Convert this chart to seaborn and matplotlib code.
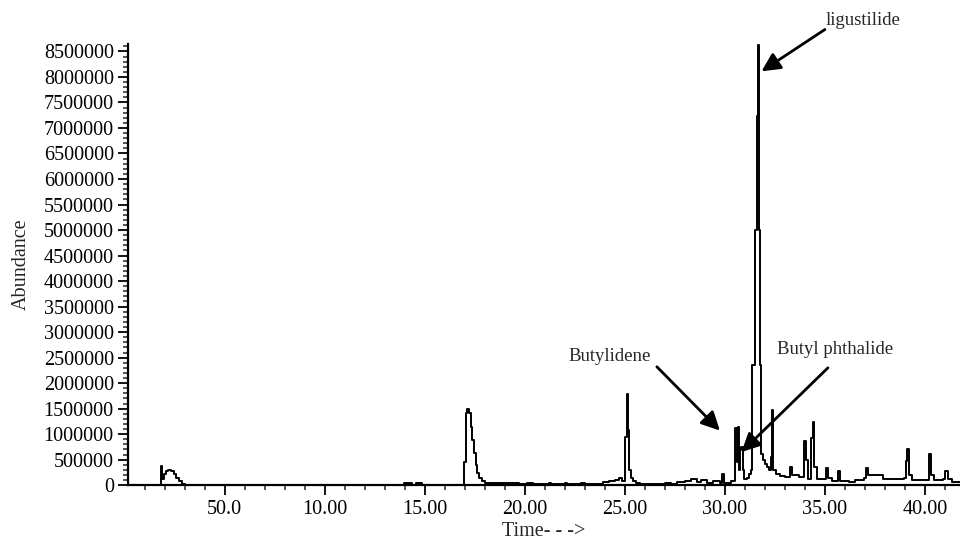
import numpy as np
import pandas as pd
import seaborn as sns
import matplotlib.pyplot as plt
from matplotlib.ticker import MultipleLocator

# Chromatogram (time in min, abundance in millions), step trace
rt_early = [0.15, 1.80, 1.87, 1.95, 2.05, 2.15, 2.30, 2.45, 2.55, 2.70, 2.85, 3.00,
            13.95, 14.35, 14.55, 14.85]
ab_early = [0.0, 0.37, 0.12, 0.22, 0.28, 0.30, 0.27, 0.22, 0.15, 0.08, 0.03, 0.0,
            0.04, 0.0, 0.04, 0.0]

rt_mid = [16.95, 17.05, 17.12, 17.20, 17.30, 17.38, 17.46, 17.54, 17.62, 17.72, 17.85, 18.00, 18.20,
          19.70, 20.10, 20.40, 21.20, 21.30, 22.00, 22.10, 22.80, 23.00, 23.90, 24.20, 24.50, 24.70, 24.85,
          25.00, 25.10, 25.17, 25.23, 25.30, 25.40, 25.55, 25.75,
          27.00, 27.30, 27.60, 28.00, 28.30, 28.60, 28.80, 29.10, 29.40, 29.75, 29.85, 29.95, 30.30]
ab_mid = [0.46, 1.42, 1.50, 1.42, 1.15, 0.88, 0.63, 0.40, 0.24, 0.14, 0.08, 0.05, 0.04,
          0.03, 0.05, 0.03, 0.05, 0.03, 0.05, 0.03, 0.05, 0.03, 0.06, 0.08, 0.10, 0.14, 0.08,
          0.94, 1.78, 1.08, 0.30, 0.15, 0.08, 0.05, 0.03,
          0.04, 0.03, 0.06, 0.08, 0.12, 0.06, 0.10, 0.05, 0.08, 0.05, 0.22, 0.05, 0.08]

rt_main = [30.45, 30.52, 30.58, 30.63, 30.70, 30.76, 30.82, 30.88, 30.95, 31.10, 31.20, 31.28,
           31.36, 31.50, 31.58, 31.64, 31.70, 31.75, 31.80, 31.90, 32.00, 32.10, 32.20, 32.28,
           32.34, 32.42, 32.55, 32.75, 33.00]
ab_main = [0.08, 1.12, 0.45, 1.15, 0.30, 0.68, 0.75, 0.30, 0.12, 0.15, 0.22, 0.30,
           2.36, 5.00, 7.23, 8.62, 5.00, 2.36, 0.62, 0.50, 0.42, 0.35, 0.30, 0.55,
           1.47, 0.30, 0.22, 0.18, 0.16]

rt_late = [33.25, 33.35, 33.70, 33.95, 34.05, 34.15, 34.30, 34.38, 34.46, 34.60, 35.05, 35.15, 35.35,
           35.65, 35.75, 36.20, 36.50, 36.95, 37.05, 37.15, 37.90, 38.60, 38.95, 39.05, 39.12, 39.20,
           39.35, 40.20, 40.32, 40.45, 40.90, 41.00, 41.15, 41.35, 41.75]
ab_late = [0.35, 0.20, 0.17, 0.86, 0.50, 0.12, 0.92, 1.24, 0.35, 0.12, 0.33, 0.15, 0.08,
           0.28, 0.08, 0.06, 0.11, 0.15, 0.33, 0.20, 0.12, 0.12, 0.15, 0.47, 0.70, 0.20,
           0.10, 0.62, 0.20, 0.10, 0.12, 0.28, 0.12, 0.07, 0.07]

x_ticks = [5, 10, 15, 20, 25, 30, 35, 40]
x_labels = ['50.0', '10.00', '15.00', '20.00', '25.00', '30.00', '35.00', '40.00']

# compound labels: text position and arrow tip (time, abundance)
labels = ['ligustilide', 'Butylidene', 'Butyl phthalide']
text_pos = [(35.05, 9.10e6), (24.25, 2.52e6), (35.5, 2.65e6)]
tip_pos = [(31.83, 8.11e6), (29.75, 1.07e6), (30.83, 0.65e6)]
tail_pos = [(35.0, 8.93e6), (26.6, 2.32e6), (35.15, 2.30e6)]

df = pd.DataFrame({
    'time': rt_early + rt_mid + rt_main + rt_late,
    'abundance': np.array(ab_early + ab_mid + ab_main + ab_late) * 1e6,
})

sns.set_style('ticks')
plt.rcParams['font.family'] = ['Liberation Serif', 'DejaVu Serif']

fig = plt.figure(figsize=(9.6, 5.47), dpi=100)
ax = fig.add_axes([0.133, 0.113, 0.867, 0.807])

sns.lineplot(data=df, x='time', y='abundance', ax=ax, color='black', lw=1.4,
             drawstyle='steps-post', estimator=None, sort=False)

ax.set_xlim(0.15, 41.75)
ax.set_ylim(0, 8.65e6)
ax.set_xticks(x_ticks)
ax.set_xticklabels(x_labels)
ax.xaxis.set_minor_locator(MultipleLocator(1))
ax.set_yticks(np.arange(0, 8500001, 500000))
ax.set_yticklabels([str(v) for v in range(0, 8500001, 500000)])
ax.yaxis.set_minor_locator(MultipleLocator(100000))
ax.tick_params(axis='both', which='major', direction='out', length=7, width=1.3,
               labelsize=14.5, colors='black', pad=3)
ax.tick_params(axis='both', which='minor', direction='out', length=3.5, width=1.1)
ax.tick_params(axis='x', which='major', pad=4)
sns.despine(ax=ax)
for s in ['left', 'bottom']:
    ax.spines[s].set_linewidth(1.6)
    ax.spines[s].set_color('black')

ax.set_xlabel('Time- - ->', fontsize=14.5, labelpad=2)
ax.set_ylabel('Abundance', fontsize=14.5, labelpad=9)

for lab, tp, tip, tail in zip(labels, text_pos, tip_pos, tail_pos):
    ha = 'left' if lab == 'ligustilide' else 'center'
    ax.text(tp[0], tp[1], lab, fontsize=13.5, ha=ha, va='center', clip_on=False)
    ax.annotate('', xy=tip, xytext=tail, annotation_clip=False,
                arrowprops=dict(arrowstyle='-|>', color='black', lw=2,
                                mutation_scale=28, shrinkA=0, shrinkB=0))

fig.savefig('out.png', dpi=100)
